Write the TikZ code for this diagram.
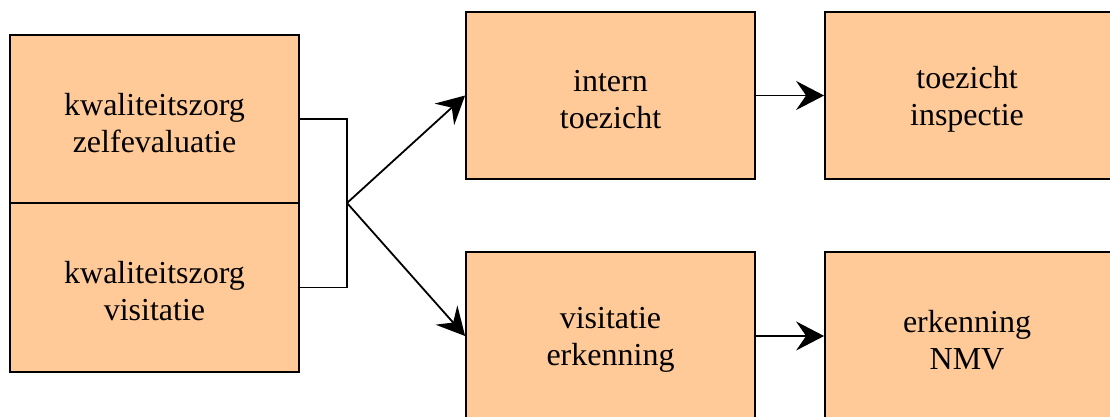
\documentclass[tikz,border=0pt]{standalone}
\usepackage{fontspec}
\newfontfamily\tnr{Liberation Serif}
\usetikzlibrary{arrows.meta,calc}
\definecolor{peach}{HTML}{FFCA98}
\begin{document}
\begin{tikzpicture}[x=1pt,y=-1pt,
  box/.style={draw=black,line width=1.8pt,fill=peach,rectangle,inner sep=0pt},
  txt/.style={inner sep=0pt,align=center,font=\tnr\fontsize{32}{37}\selectfont},
  conn/.style={line width=1.8pt},
  arr/.style={line width=1.8pt,-{Stealth[length=28pt,width=29pt,inset=10pt]}}]
\clip (0,0) rectangle (1110,416);
\fill[white] (0,0) rectangle (1110,416);
\node[box,minimum width=289pt,minimum height=168pt] (lz) at (154.5,119) {};
\node[box,minimum width=289pt,minimum height=169pt] (lv) at (154.5,287.5) {};
\node[box,minimum width=289pt,minimum height=167pt] (it) at (610.5,95.5) {};
\node[box,minimum width=290pt,minimum height=167pt] (ti) at (970,95.5) {};
\node[box,minimum width=289pt,minimum height=168pt] (ve) at (610.5,336) {};
\node[box,minimum width=290pt,minimum height=168pt] (en) at (970,336) {};
\node[txt] (lzT) at ([yshift=-4pt]lz.center) {kwaliteitszorg\\zelfevaluatie};
\node[txt] (lvT) at ([yshift=-4pt]lv.center) {kwaliteitszorg\\visitatie};
\node[txt] (itT) at ([yshift=-4pt]it.center) {intern\\toezicht};
\node[txt] (tiT) at ([xshift=-3pt,yshift=-4pt]ti.center) {toezicht\\inspectie};
\node[txt] (veT) at ([yshift=-4pt]ve.center) {visitatie\\erkenning};
\node[txt] (enT) at ([xshift=-3pt,yshift=-4pt]en.center) {erkenning\\NMV};
\coordinate (mid) at (347,203);
\draw[conn] (lz.east) -| (mid) |- (lv.east);
\draw[arr] (mid) -- (it.west);
\draw[arr] (mid) -- (ve.west);
\draw[arr] (it.east) -- (ti.west);
\draw[arr] (ve.east) -- (en.west);
\end{tikzpicture}
\end{document}
